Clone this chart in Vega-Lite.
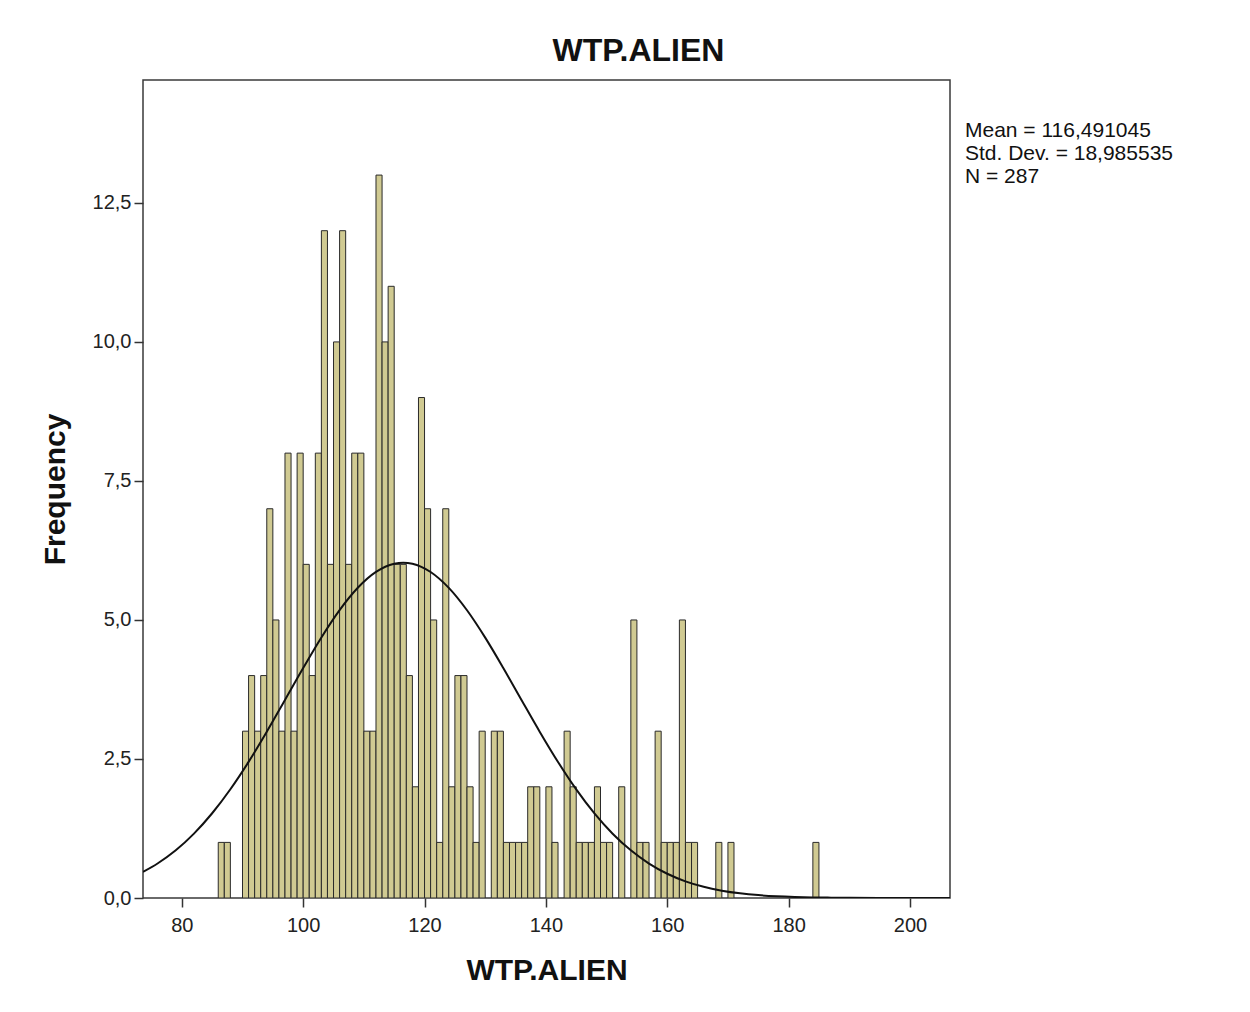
{
  "$schema": "https://vega.github.io/schema/vega-lite/v6.json",
  "width": 807,
  "height": 818,
  "autosize": {"type": "none"},
  "padding": {"left": 143, "top": 80, "right": 300, "bottom": 114},
  "background": "white",
  "config": {
    "view": {"fill": "#F0F0F0", "stroke": "#3a3a3a", "strokeWidth": 1.5},
    "font": "Liberation Sans"
  },
  "title": {
    "text": "WTP.ALIEN",
    "anchor": "middle",
    "dx": 92,
    "offset": 12,
    "font": "Liberation Sans",
    "fontSize": 32,
    "fontWeight": "bold",
    "color": "#111111"
  },
  "datasets": {
    "bins": [
      {"bin_start": 86, "bin_end": 87, "count": 1},
      {"bin_start": 87, "bin_end": 88, "count": 1},
      {"bin_start": 90, "bin_end": 91, "count": 3},
      {"bin_start": 91, "bin_end": 92, "count": 4},
      {"bin_start": 92, "bin_end": 93, "count": 3},
      {"bin_start": 93, "bin_end": 94, "count": 4},
      {"bin_start": 94, "bin_end": 95, "count": 7},
      {"bin_start": 95, "bin_end": 96, "count": 5},
      {"bin_start": 96, "bin_end": 97, "count": 3},
      {"bin_start": 97, "bin_end": 98, "count": 8},
      {"bin_start": 98, "bin_end": 99, "count": 3},
      {"bin_start": 99, "bin_end": 100, "count": 8},
      {"bin_start": 100, "bin_end": 101, "count": 6},
      {"bin_start": 101, "bin_end": 102, "count": 4},
      {"bin_start": 102, "bin_end": 103, "count": 8},
      {"bin_start": 103, "bin_end": 104, "count": 12},
      {"bin_start": 104, "bin_end": 105, "count": 6},
      {"bin_start": 105, "bin_end": 106, "count": 10},
      {"bin_start": 106, "bin_end": 107, "count": 12},
      {"bin_start": 107, "bin_end": 108, "count": 6},
      {"bin_start": 108, "bin_end": 109, "count": 8},
      {"bin_start": 109, "bin_end": 110, "count": 8},
      {"bin_start": 110, "bin_end": 111, "count": 3},
      {"bin_start": 111, "bin_end": 112, "count": 3},
      {"bin_start": 112, "bin_end": 113, "count": 13},
      {"bin_start": 113, "bin_end": 114, "count": 10},
      {"bin_start": 114, "bin_end": 115, "count": 11},
      {"bin_start": 115, "bin_end": 116, "count": 6},
      {"bin_start": 116, "bin_end": 117, "count": 6},
      {"bin_start": 117, "bin_end": 118, "count": 4},
      {"bin_start": 118, "bin_end": 119, "count": 2},
      {"bin_start": 119, "bin_end": 120, "count": 9},
      {"bin_start": 120, "bin_end": 121, "count": 7},
      {"bin_start": 121, "bin_end": 122, "count": 5},
      {"bin_start": 122, "bin_end": 123, "count": 1},
      {"bin_start": 123, "bin_end": 124, "count": 7},
      {"bin_start": 124, "bin_end": 125, "count": 2},
      {"bin_start": 125, "bin_end": 126, "count": 4},
      {"bin_start": 126, "bin_end": 127, "count": 4},
      {"bin_start": 127, "bin_end": 128, "count": 2},
      {"bin_start": 128, "bin_end": 129, "count": 1},
      {"bin_start": 129, "bin_end": 130, "count": 3},
      {"bin_start": 131, "bin_end": 132, "count": 3},
      {"bin_start": 132, "bin_end": 133, "count": 3},
      {"bin_start": 133, "bin_end": 134, "count": 1},
      {"bin_start": 134, "bin_end": 135, "count": 1},
      {"bin_start": 135, "bin_end": 136, "count": 1},
      {"bin_start": 136, "bin_end": 137, "count": 1},
      {"bin_start": 137, "bin_end": 138, "count": 2},
      {"bin_start": 138, "bin_end": 139, "count": 2},
      {"bin_start": 140, "bin_end": 141, "count": 2},
      {"bin_start": 141, "bin_end": 142, "count": 1},
      {"bin_start": 143, "bin_end": 144, "count": 3},
      {"bin_start": 144, "bin_end": 145, "count": 2},
      {"bin_start": 145, "bin_end": 146, "count": 1},
      {"bin_start": 146, "bin_end": 147, "count": 1},
      {"bin_start": 147, "bin_end": 148, "count": 1},
      {"bin_start": 148, "bin_end": 149, "count": 2},
      {"bin_start": 149, "bin_end": 150, "count": 1},
      {"bin_start": 150, "bin_end": 151, "count": 1},
      {"bin_start": 152, "bin_end": 153, "count": 2},
      {"bin_start": 154, "bin_end": 155, "count": 5},
      {"bin_start": 155, "bin_end": 156, "count": 1},
      {"bin_start": 156, "bin_end": 157, "count": 1},
      {"bin_start": 158, "bin_end": 159, "count": 3},
      {"bin_start": 159, "bin_end": 160, "count": 1},
      {"bin_start": 160, "bin_end": 161, "count": 1},
      {"bin_start": 161, "bin_end": 162, "count": 1},
      {"bin_start": 162, "bin_end": 163, "count": 5},
      {"bin_start": 163, "bin_end": 164, "count": 1},
      {"bin_start": 164, "bin_end": 165, "count": 1},
      {"bin_start": 168, "bin_end": 169, "count": 1},
      {"bin_start": 170, "bin_end": 171, "count": 1},
      {"bin_start": 184, "bin_end": 185, "count": 1}
    ],
    "curve": [
      {"x": 73.6, "density": 0.470},
      {"x": 76, "density": 0.621},
      {"x": 79, "density": 0.858},
      {"x": 82, "density": 1.158},
      {"x": 85, "density": 1.524},
      {"x": 88, "density": 1.956},
      {"x": 91, "density": 2.448},
      {"x": 94, "density": 2.990},
      {"x": 97, "density": 3.561},
      {"x": 100, "density": 4.135},
      {"x": 103, "density": 4.685},
      {"x": 106, "density": 5.177},
      {"x": 109, "density": 5.579},
      {"x": 112, "density": 5.864},
      {"x": 115, "density": 6.012},
      {"x": 116.5, "density": 6.031},
      {"x": 118, "density": 6.012},
      {"x": 121, "density": 5.863},
      {"x": 124, "density": 5.577},
      {"x": 127, "density": 5.174},
      {"x": 130, "density": 4.682},
      {"x": 133, "density": 4.132},
      {"x": 136, "density": 3.557},
      {"x": 139, "density": 2.987},
      {"x": 142, "density": 2.446},
      {"x": 145, "density": 1.953},
      {"x": 148, "density": 1.521},
      {"x": 151, "density": 1.156},
      {"x": 154, "density": 0.857},
      {"x": 157, "density": 0.619},
      {"x": 160, "density": 0.436},
      {"x": 163, "density": 0.300},
      {"x": 166, "density": 0.201},
      {"x": 169, "density": 0.132},
      {"x": 172, "density": 0.084},
      {"x": 175, "density": 0.052},
      {"x": 178, "density": 0.032},
      {"x": 181, "density": 0.019},
      {"x": 184, "density": 0.011},
      {"x": 187, "density": 0.006},
      {"x": 190, "density": 0.003},
      {"x": 195, "density": 0.001},
      {"x": 200, "density": 0.0002},
      {"x": 206.6, "density": 0.0}
    ],
    "stats": [
      {"stat": "Mean = 116,491045"},
      {"stat": "Std. Dev. = 18,985535"},
      {"stat": "N = 287"}
    ]
  },
  "layer": [
    {
      "data": {"name": "bins"},
      "mark": {"type": "rect", "fill": "#D0CA92", "stroke": "#2a2a2a", "strokeWidth": 1, "clip": true},
      "encoding": {
        "x": {
          "field": "bin_start",
          "type": "quantitative",
          "scale": {"domain": [73.6, 206.6], "nice": false, "zero": false},
          "axis": {
            "title": "WTP.ALIEN",
            "values": [80, 100, 120, 140, 160, 180, 200],
            "domain": false,
            "grid": false,
            "ticks": true,
            "tickSize": 9,
            "tickColor": "#333333",
            "tickWidth": 1.5,
            "labelFont": "Liberation Sans",
            "labelFontSize": 20,
            "labelColor": "#222222",
            "labelPadding": 8,
            "titleFont": "Liberation Sans",
            "titleFontSize": 30,
            "titleFontWeight": "bold",
            "titleColor": "#111111",
            "titlePadding": 20
          }
        },
        "x2": {"field": "bin_end"},
        "y": {
          "field": "count",
          "type": "quantitative",
          "scale": {"domain": [0, 14.71], "nice": false, "zero": true},
          "axis": {
            "title": "Frequency",
            "values": [0, 2.5, 5, 7.5, 10, 12.5],
            "labelExpr": "replace(format(datum.value, '.1f'), '.', ',')",
            "domain": false,
            "grid": false,
            "tickSize": 9,
            "tickColor": "#333333",
            "tickWidth": 1.5,
            "labelFont": "Liberation Sans",
            "labelFontSize": 20,
            "labelColor": "#222222",
            "labelPadding": 3,
            "titleFont": "Liberation Sans",
            "titleFontSize": 30,
            "titleFontWeight": "bold",
            "titleColor": "#111111",
            "titlePadding": 22
          }
        },
        "y2": {"datum": 0}
      }
    },
    {
      "data": {"name": "curve"},
      "mark": {"type": "line", "color": "#111111", "strokeWidth": 2, "interpolate": "monotone", "clip": true},
      "encoding": {
        "x": {"field": "x", "type": "quantitative"},
        "y": {"field": "density", "type": "quantitative"}
      }
    },
    {
      "data": {"name": "stats"},
      "mark": {"type": "point", "opacity": 0, "filled": true},
      "encoding": {
        "color": {
          "field": "stat",
          "type": "nominal",
          "scale": {"domain": ["Mean = 116,491045", "Std. Dev. = 18,985535", "N = 287"], "range": ["#ffffff", "#ffffff", "#ffffff"]},
          "legend": {
            "title": null,
            "orient": "none",
            "legendX": 801,
            "legendY": 40,
            "symbolSize": 1,
            "symbolOpacity": 0,
            "symbolStrokeWidth": 0,
            "labelOffset": 0,
            "labelFont": "Liberation Sans",
            "labelFontSize": 21,
            "labelColor": "#111111",
            "rowPadding": 1,
            "padding": 0,
            "labelLimit": 400
          }
        }
      }
    }
  ]
}
